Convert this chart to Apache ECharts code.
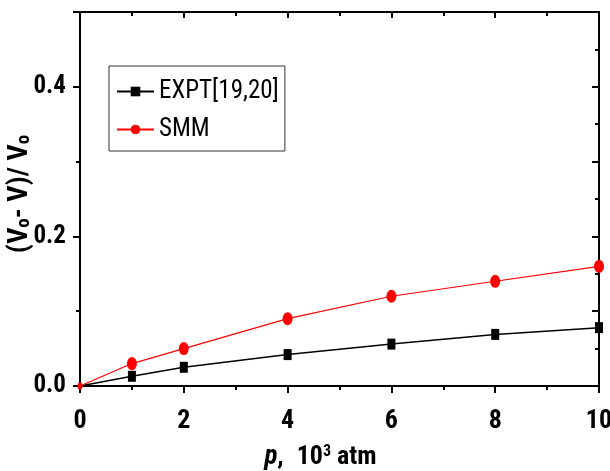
<!DOCTYPE html>
<html>
<head>
<meta charset="utf-8">
<script src="https://cdn.jsdelivr.net/npm/echarts@6/dist/echarts.min.js"></script>
<style>
  html, body { margin: 0; padding: 0; background: #fff; }
  #main { width: 610px; height: 471px; }
</style>
</head>
<body>
<div id="main"></div>
<script>
var chart = echarts.init(document.getElementById('main'));

// pressure, 10^3 atm
var pressure = [0, 1, 2, 4, 6, 8, 10];
// (V0 - V) / V0
var exptVals = [0, 0.013, 0.025, 0.042, 0.056, 0.069, 0.078];
var smmVals = [0, 0.030, 0.050, 0.090, 0.120, 0.140, 0.160];

var FONT = '"Roboto Condensed", "DejaVu Sans Condensed", sans-serif';
var ELLIPSE = 'path://M0,-1A1,1,0,1,1,0,1A1,1,0,1,1,0,-1Z';

function pairs(xs, ys) {
  var out = [];
  for (var i = 0; i < xs.length; i++) out.push([xs[i], ys[i]]);
  return out;
}

var lineAx = { show: true, onZero: false, lineStyle: { color: '#000', width: 2 } };

var options = {
  animation: false,
  backgroundColor: '#fff',
  grid: { left: 80, right: 11, top: 12, bottom: 85, outerBoundsMode: 'none' },
  legend: {
    left: 109, top: 66,
    orient: 'vertical',
    borderColor: '#333', borderWidth: 1,
    padding: [13, 6, 9, 7],
    itemWidth: 37, itemHeight: 12, itemGap: 13,
    textStyle: { fontFamily: FONT, fontSize: 25, color: '#000' },
    data: ['EXPT[19,20]', 'SMM']
  },
  xAxis: [{
    type: 'value', position: 'bottom', min: 0, max: 10, interval: 2,
    axisLine: lineAx,
    axisTick: { show: true, inside: false, length: 7, lineStyle: { width: 2, color: '#000' } },
    minorTick: { show: true, splitNumber: 2, length: 4, lineStyle: { width: 2, color: '#000' } },
    splitLine: { show: false },
    axisLabel: { margin: 22, fontFamily: FONT, fontSize: 26, fontWeight: 'bold', color: '#000' },
    name: '{i|p}{a|,}{b|10}{s|3}{a| atm}',
    nameLocation: 'middle', nameGap: 58, nameMoveOverlap: false,
    nameTextStyle: {
      padding: [0, 38, 0, 0],
      rich: {
        i: { fontFamily: FONT, fontSize: 27, fontWeight: 'bold', fontStyle: 'italic', color: '#000' },
        a: { fontFamily: FONT, fontSize: 26, fontWeight: 'bold', color: '#000' },
        b: { fontFamily: FONT, fontSize: 26, fontWeight: 'bold', color: '#000', padding: [0, 0, 0, 13] },
        s: { fontFamily: FONT, fontSize: 16, fontWeight: 'bold', color: '#000', verticalAlign: 'top', padding: [0, 0, 10, 0] }
      }
    }
  }, {
    type: 'value', position: 'top', min: 0, max: 10, interval: 2,
    axisLine: lineAx,
    axisTick: { show: true, inside: true, length: 6, lineStyle: { width: 2, color: '#000' } },
    minorTick: { show: true, splitNumber: 2, length: 4, lineStyle: { width: 2, color: '#000' } },
    splitLine: { show: false },
    axisLabel: { show: false }
  }],
  yAxis: [{
    type: 'value', position: 'left', min: 0, max: 0.5, interval: 0.2,
    axisLine: lineAx,
    axisTick: { show: true, inside: false, length: 7, lineStyle: { width: 2, color: '#000' } },
    minorTick: { show: true, splitNumber: 2, length: 4, lineStyle: { width: 2, color: '#000' } },
    splitLine: { show: false },
    axisLabel: {
      margin: 14, showMaxLabel: false,
      fontFamily: FONT, fontSize: 25, fontWeight: 'bold', color: '#000',
      formatter: function (v) { return v.toFixed(1); }
    },
    name: '{a|(V}{s|o}{a|- V)/ V}{s|o}',
    nameLocation: 'middle', nameRotate: 90, nameGap: 46, nameMoveOverlap: false,
    nameTextStyle: {
      padding: [0, 0, 0, 10],
      rich: {
        a: { fontFamily: FONT, fontSize: 28, fontWeight: 'bold', color: '#000' },
        s: { fontFamily: FONT, fontSize: 19, fontWeight: 'bold', color: '#000', verticalAlign: 'bottom', padding: [8, 0, 0, 0] }
      }
    }
  }, {
    type: 'value', position: 'right', min: 0, max: 0.5, interval: 0.1,
    axisLine: lineAx,
    axisTick: { show: true, inside: true, length: 7, lineStyle: { width: 2, color: '#000' } },
    minorTick: { show: true, splitNumber: 2, length: 4, lineStyle: { width: 2, color: '#000' } },
    splitLine: { show: false },
    axisLabel: { show: false }
  }],
  series: [{
    name: 'EXPT[19,20]', type: 'line',
    xAxisIndex: 0, yAxisIndex: 0,
    data: pairs(pressure, exptVals),
    symbol: 'rect',
    symbolSize: function (v) { return v[0] === 0 ? 0 : [8, 11]; },
    itemStyle: { color: '#000' },
    lineStyle: { color: '#000', width: 1.5 },
    z: 3
  }, {
    name: 'SMM', type: 'line',
    xAxisIndex: 0, yAxisIndex: 0,
    data: pairs(pressure, smmVals),
    symbol: ELLIPSE,
    symbolSize: function (v) { return v[0] === 0 ? [5, 7] : [10, 13]; },
    itemStyle: { color: '#ff0000' },
    lineStyle: { color: '#ff0000', width: 1.2 },
    z: 4
  }]
};

chart.setOption(options);
</script>
</body>
</html>
